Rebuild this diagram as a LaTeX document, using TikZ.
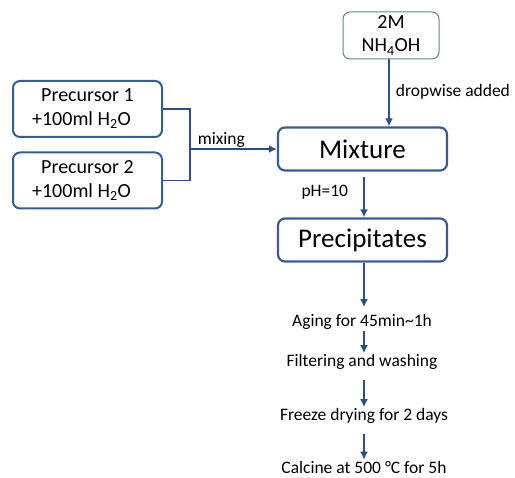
\documentclass[tikz,border=0pt]{standalone}
\usepackage{fontspec}
\setmainfont{Carlito}
\usetikzlibrary{arrows.meta}
\definecolor{boxblue}{RGB}{58,92,140}
\definecolor{lightblue}{RGB}{100,128,165}
\definecolor{arrblue}{RGB}{44,78,128}

\begin{document}
\begin{tikzpicture}[
  x=1pt,y=-1pt,
  pnode/.style={draw=boxblue,line width=2pt,rounded corners=7pt,minimum width=149pt,minimum height=56pt,align=center,font=\fontsize{20}{24}\selectfont},
  mnode/.style={draw=boxblue,line width=2.2pt,rounded corners=7pt,minimum width=169pt,minimum height=43pt,font=\fontsize{27}{30}\selectfont},
  anode/.style={draw=lightblue,line width=1pt,rounded corners=7pt,minimum width=96pt,minimum height=47pt,align=center,inner sep=1pt,font=\fontsize{20}{23}\selectfont},
  tnode/.style={inner sep=1pt,font=\fontsize{17.5}{20}\selectfont},
  arr/.style={draw=arrblue,line width=1.8pt,-{Latex[length=8pt,width=8pt]}}
]
  \useasboundingbox (0,0) rectangle (515,478);

  % starting solutions
  \node[pnode] (p1) at (87.5,109) {Precursor 1\\+100ml H\textsubscript{2}O\hspace*{12pt}};
  \node[pnode] (p2) at (87.5,180.5) {Precursor 2\\+100ml H\textsubscript{2}O\hspace*{12pt}};
  \node[anode] (nh) at (391,35.5) {2M\\NH\textsubscript{4}OH};

  % main boxes
  \node[mnode] (mix) at (362.5,149) {Mixture};
  \node[mnode] (prec) at (362.5,240) {Precipitates};

  % treatment steps
  \node[tnode] (aging) at (362,322) {Aging for 45min\textasciitilde1h};
  \node[tnode] (filter) at (362,362) {Filtering and washing};
  \node[tnode] (freeze) at (364,416) {Freeze drying for 2 days};
  \node[tnode] (calc) at (364,467) {Calcine at 500 \textdegree C for 5h};

  % mixing
  \coordinate (join) at (190,149);
  \draw[draw=arrblue,line width=1.8pt] (p1.east) -| (join) |- (p2.east);
  \draw[arr] (join) -- (mix.west) node[tnode,above,pos=0.36] (mixlab) {mixing};

  % base addition
  \draw[arr] (nh.south -| 389,0) -- (mix.north -| 389,0)
    node[tnode,right,pos=0.48,xshift=5pt] (droplab) {dropwise added};
  \draw[arr,shorten <=5pt] (mix.south -| 364,0) -- (prec.north -| 364,0)
    node[tnode,left,pos=0.45,xshift=-14pt] (phlab) {pH=10};

  % steps
  \draw[arr,shorten >=6pt] (prec.south -| 364,0) -- (aging.north -| 364,0);
  \draw[arr] (aging.south -| 364,0) -- (filter.north -| 364,0);
  \draw[arr,shorten <=9pt] (filter.south -| 364,0) -- (freeze.north -| 364,0);
  \draw[arr,shorten <=9pt] (freeze.south -| 364,0) -- (calc.north -| 364,0);

\end{tikzpicture}
\end{document}
